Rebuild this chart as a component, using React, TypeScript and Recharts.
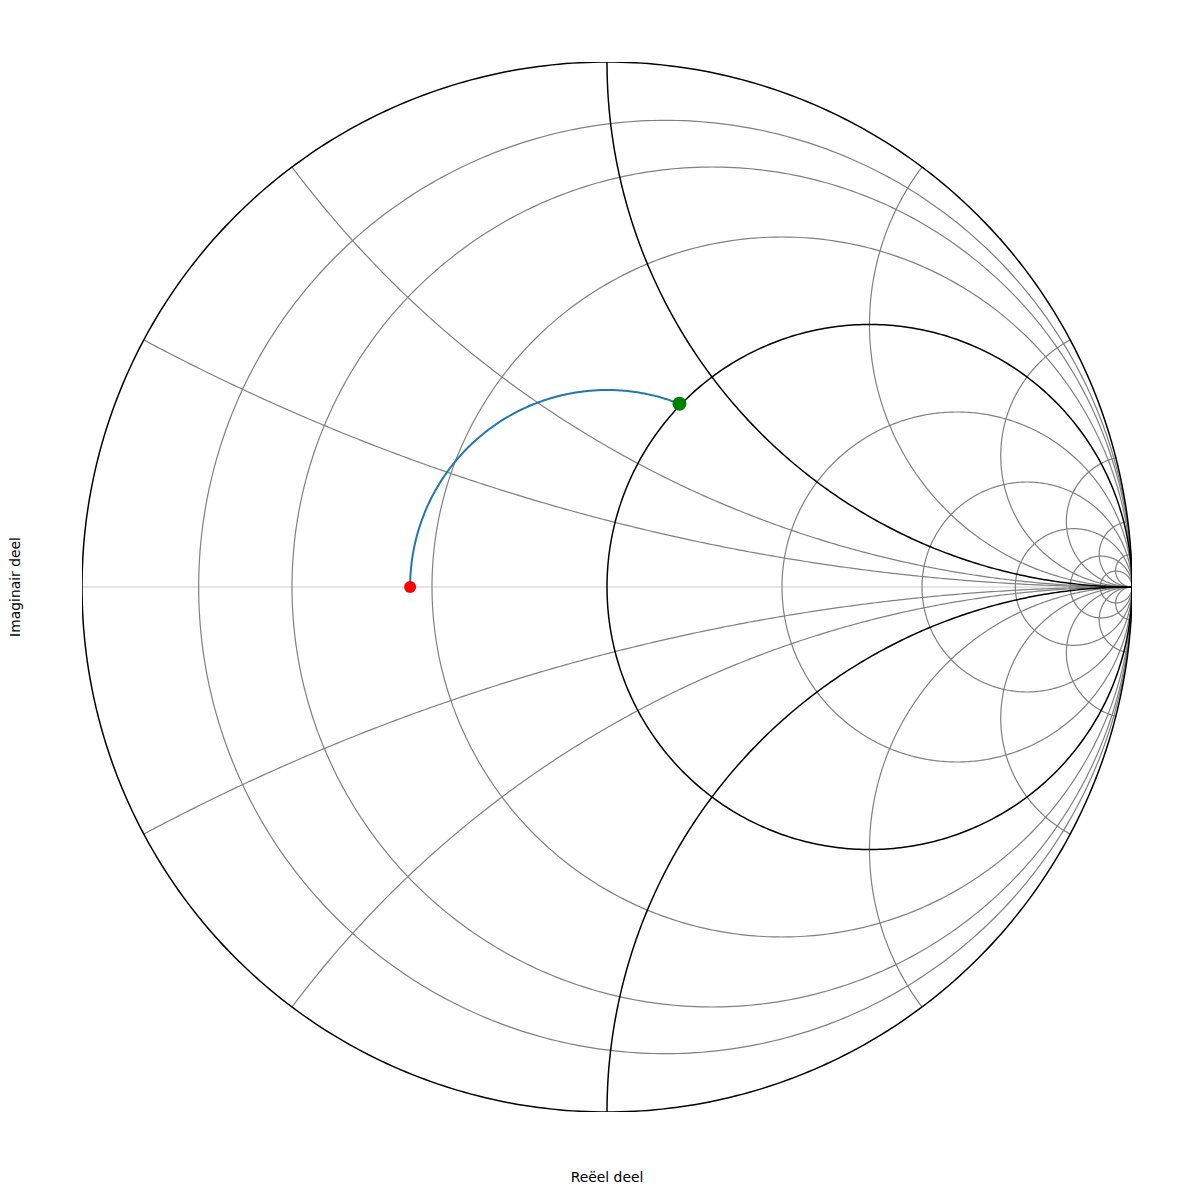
import React from 'react';
import { ComposedChart, Line, XAxis, YAxis } from 'recharts';

// Smith chart grid values
const resistanceGray = [0.125, 0.25, 0.5, 2, 4, 8, 16, 32];
const resistanceBlack = [0, 1];
const reactanceGray = [0.25, 0.5, 2, 4, 8, 16, 32];
const reactanceBlack = [1];

// Data: load reflection coefficient and matching point near the r = 1 circle
const loadPoint = [{ x: -0.375, y: 0 }];
const matchPoint = [{ x: 0.138, y: 0.349 }];

const xLabel = 'Reëel deel';
const yLabel = 'Imaginair deel';

type P = { x: number; y: number };

function resistanceCircle(r: number): P[] {
  const c = r / (1 + r);
  const rad = 1 / (1 + r);
  const n = 480;
  const pts: P[] = [];
  for (let i = 0; i <= n; i++) {
    const t = (2 * Math.PI * i) / n;
    pts.push({ x: c + rad * Math.cos(t), y: rad * Math.sin(t) });
  }
  return pts;
}

function reactanceArc(xv: number): P[] {
  const ax = Math.abs(xv);
  const ex = (ax * ax - 1) / (ax * ax + 1);
  const ey = (2 * ax) / (ax * ax + 1);
  const cy = 1 / ax;
  const rad = 1 / ax;
  let ts = Math.atan2(ey - cy, ex - 1);
  if (ts < 0) ts += 2 * Math.PI;
  const te = 1.5 * Math.PI;
  const n = 300;
  const pts: P[] = [];
  const sgn = xv < 0 ? -1 : 1;
  for (let i = 0; i <= n; i++) {
    const t = ts + ((te - ts) * i) / n;
    pts.push({ x: 1 + rad * Math.cos(t), y: sgn * (cy + rad * Math.sin(t)) });
  }
  return pts;
}

// arc of constant |Gamma| (lossless line) from the load point to the match point
function lineArc(from: P, to: P): P[] {
  const r0 = Math.hypot(from.x, from.y);
  const r1 = Math.hypot(to.x, to.y);
  const a0 = from.y === 0 && from.x < 0 ? Math.PI : Math.atan2(from.y, from.x);
  const a1 = Math.atan2(to.y, to.x);
  const n = 200;
  const pts: P[] = [];
  for (let i = 0; i <= n; i++) {
    const f = i / n;
    const t = a0 + (a1 - a0) * f;
    const rho = r0 + (r1 - r0) * f;
    pts.push({ x: rho * Math.cos(t), y: rho * Math.sin(t) });
  }
  return pts;
}

const axisLineData = [
  { x: -1, y: 0 },
  { x: 1, y: 0 },
];

const FONT = 'DejaVu Sans, sans-serif';

const XLabelContent = (props: any) => {
  const vb = props.viewBox || { x: 82, y: 1112, width: 1050, height: 82 };
  return (
    <text
      x={vb.x + vb.width / 2}
      y={vb.y + vb.height - 12}
      textAnchor="middle"
      fontFamily={FONT}
      fontSize={13.9}
      fill="#000"
    >
      {xLabel}
    </text>
  );
};

const YLabelContent = (props: any) => {
  const vb = props.viewBox || { x: 0, y: 62, width: 82, height: 1050 };
  const cx = vb.x + 19.5;
  const cy = vb.y + vb.height / 2;
  return (
    <text
      x={cx}
      y={cy}
      transform={`rotate(-90 ${cx} ${cy})`}
      textAnchor="middle"
      fontFamily={FONT}
      fontSize={13.9}
      fill="#000"
    >
      {yLabel}
    </text>
  );
};

export default function App() {
  const blueArc = lineArc(loadPoint[0], matchPoint[0]);
  return (
    <div style={{ position: 'absolute', left: 0, top: 0, width: 1194, height: 1194, background: '#fff' }}>
      <ComposedChart width={1194} height={1194} margin={{ top: 62, right: 62, bottom: 0, left: 0 }}>
        <XAxis
          type="number"
          dataKey="x"
          domain={[-1, 1]}
          allowDataOverflow
          height={82}
          tick={false}
          tickLine={false}
          axisLine={false}
          label={{ content: XLabelContent } as any}
        />
        <YAxis
          type="number"
          domain={[-1, 1]}
          allowDataOverflow
          width={82}
          tick={false}
          tickLine={false}
          axisLine={false}
          label={{ content: YLabelContent } as any}
        />
        <Line
          data={axisLineData}
          dataKey="y"
          stroke="#dddddd"
          strokeWidth={1.5}
          dot={false}
          isAnimationActive={false}
          type="linear"
        />
        {resistanceGray.map((r) => (
          <Line
            key={'rg' + r}
            data={resistanceCircle(r)}
            dataKey="y"
            stroke="#808080"
            strokeWidth={1.2}
            dot={false}
            isAnimationActive={false}
            type="linear"
          />
        ))}
        {reactanceGray.flatMap((xv) => [xv, -xv]).map((xv) => (
          <Line
            key={'xg' + xv}
            data={reactanceArc(xv)}
            dataKey="y"
            stroke="#808080"
            strokeWidth={1.2}
            dot={false}
            isAnimationActive={false}
            type="linear"
          />
        ))}
        {resistanceBlack.map((r) => (
          <Line
            key={'rb' + r}
            data={resistanceCircle(r)}
            dataKey="y"
            stroke="#000000"
            strokeWidth={1.5}
            dot={false}
            isAnimationActive={false}
            type="linear"
          />
        ))}
        {reactanceBlack.flatMap((xv) => [xv, -xv]).map((xv) => (
          <Line
            key={'xb' + xv}
            data={reactanceArc(xv)}
            dataKey="y"
            stroke="#000000"
            strokeWidth={1.5}
            dot={false}
            isAnimationActive={false}
            type="linear"
          />
        ))}
        <Line
          data={blueArc}
          dataKey="y"
          stroke="#1f77b4"
          strokeWidth={2}
          dot={false}
          isAnimationActive={false}
          type="linear"
        />
        <Line
          data={loadPoint}
          dataKey="y"
          stroke="none"
          dot={{ r: 6, fill: '#ff0000', stroke: 'none' }}
          isAnimationActive={false}
        />
        <Line
          data={matchPoint}
          dataKey="y"
          stroke="none"
          dot={{ r: 7, fill: '#008000', stroke: 'none' }}
          isAnimationActive={false}
        />
      </ComposedChart>
    </div>
  );
}
